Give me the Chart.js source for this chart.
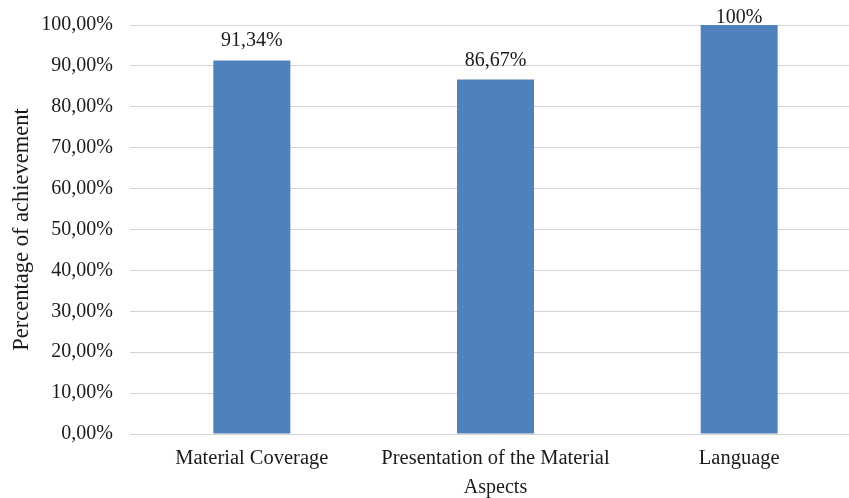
<!DOCTYPE html>
<html>
<head>
<meta charset="utf-8">
<script src="https://cdn.jsdelivr.net/npm/chart.js@4"></script>
<style>
  html, body { margin: 0; padding: 0; background: #fff; overflow: hidden; }
  #wrap { width: 849px; height: 498px; overflow: hidden; }
  #box { width: 861px; height: 498px; }
</style>
</head>
<body>
<div id="wrap"><div id="box"><canvas id="myChart"></canvas></div></div>
<script>
const aspects = ['Material Coverage', 'Presentation of the Material', 'Language']
const achievement = [91.34, 86.67, 100]
const valueLabels = ['91,34%', '86,67%', '100%']
const yTicks = [0, 10, 20, 30, 40, 50, 60, 70, 80, 90, 100]

const serif = "'Liberation Serif', 'Times New Roman', serif"
const textColor = '#1a1a1a'

// draws the value text above each bar
const barValues = {
    id: 'barValues',
    afterDatasetsDraw(chart) {
        const ctx = chart.ctx
        const meta = chart.getDatasetMeta(0)
        ctx.save()
        ctx.font = '20px ' + serif
        ctx.fillStyle = textColor
        ctx.textAlign = 'center'
        ctx.textBaseline = 'alphabetic'
        meta.data.forEach((bar, i) => {
            let y = bar.y - 14
            if (y < chart.chartArea.top - 2) y = chart.chartArea.top - 2
            ctx.fillText(valueLabels[i], bar.x, y)
        })
        ctx.restore()
    }
}

const chartContext = document.getElementById('myChart').getContext('2d')
const myChart = new Chart(chartContext, {
    type: 'bar',
    data: {
        labels: aspects,
        datasets: [{
            data: achievement,
            backgroundColor: '#4f81bd',
            barPercentage: 0.316,
            categoryPercentage: 1
        }]
    },
    options: {
        responsive: true,
        maintainAspectRatio: false,
        animation: false,
        layout: {padding: {top: 25, left: 0, right: 0, bottom: 0}},
        plugins: {
            legend: {display: false},
            tooltip: {enabled: false}
        },
        scales: {
            x: {
                grid: {display: false, drawTicks: false},
                border: {display: false},
                ticks: {
                    color: textColor,
                    font: {family: serif, size: 20.5},
                    padding: 12,
                    maxRotation: 0
                },
                title: {
                    display: true,
                    text: 'Aspects',
                    color: textColor,
                    font: {family: serif, size: 20, lineHeight: 1},
                    padding: 0
                },
                afterFit(scale) { scale.height = 64 }
            },
            y: {
                min: 0,
                max: 100,
                afterBuildTicks(scale) { scale.ticks = yTicks.map(v => ({value: v})) },
                grid: {color: '#d4d4d4', lineWidth: 1, drawTicks: false},
                border: {display: false},
                ticks: {
                    color: textColor,
                    font: {family: serif, size: 20},
                    padding: 17,
                    callback: val => val.toFixed(2).replace('.', ',') + '%'
                },
                title: {
                    display: true,
                    text: 'Percentage of achievement',
                    color: textColor,
                    font: {family: serif, size: 22.5},
                    padding: {top: 9, bottom: 0}
                },
                afterFit(scale) {
                    scale.width = 130
                    scale.paddingTop = 12
                    scale.paddingBottom = 12
                }
            }
        }
    },
    plugins: [barValues]
})
</script>
</body>
</html>
